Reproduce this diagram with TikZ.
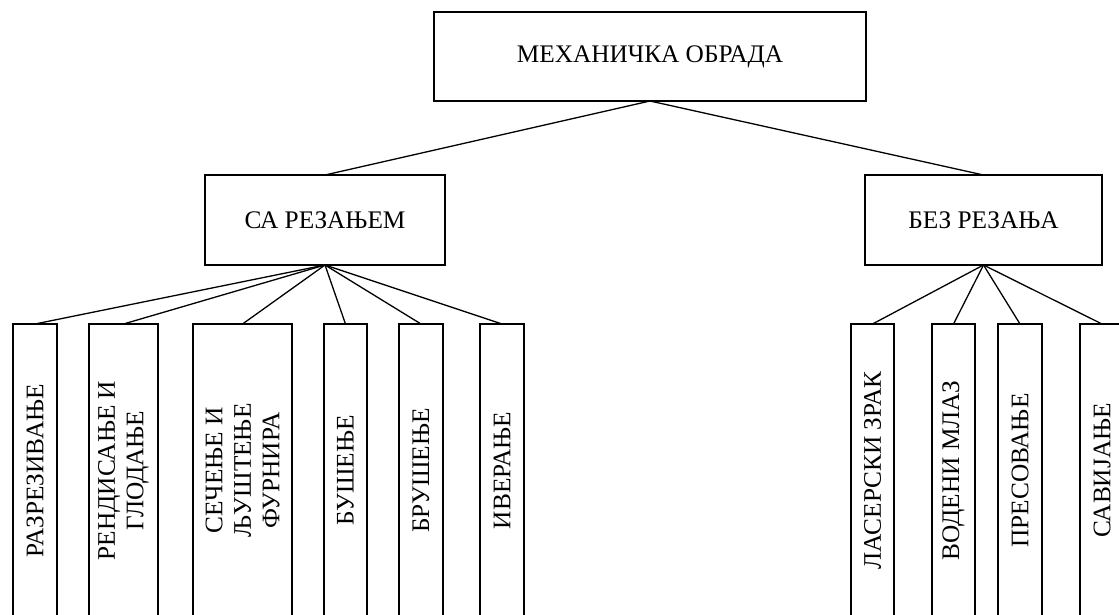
\documentclass[tikz,border=0pt]{standalone}
\usepackage{fontspec}
\setmainfont{Liberation Serif}
\usepackage{tikz}
\usetikzlibrary{positioning}

\begin{document}
\begin{tikzpicture}[x=1pt, y=-1pt,
    mainbox/.style={draw, line width=2.3pt, inner sep=0pt, outer sep=0pt,
      font=\fontsize{25.3}{28.5}\selectfont},
    leafbox/.style={mainbox, rotate=90, minimum width=293pt, align=center},
    link/.style={line width=1.3pt}]
      \useasboundingbox (0, 0) rectangle (1119, 614);

      % top level
      \node[mainbox, minimum width=432pt, minimum height=89pt] (meh) at (650, 56.5) {МЕХАНИЧКА ОБРАДА};

      \node[mainbox, minimum width=240pt, minimum height=90pt] (sa) at (325, 220) {СА РЕЗАЊЕМ};
      \node[mainbox, minimum width=237pt, minimum height=90pt] (bez) at (983.5, 220) {БЕЗ РЕЗАЊА};

      \draw[link] (meh.south) -- (sa.north);
      \draw[link] (meh.south) -- (bez.north);

      % with cutting
      \node[leafbox, minimum height=44pt] (raz) at (35, 470.5) {РАЗРЕЗИВАЊЕ};
      \node[leafbox, minimum height=69pt] (ren) at (123.5, 470.5) {РЕНДИСАЊЕ И\\ГЛОДАЊЕ};
      \node[leafbox, minimum height=99pt] (sec) at (242.5, 470.5) {СЕЧЕЊЕ И\\ЉУШТЕЊЕ\\ФУРНИРА};
      \node[leafbox, minimum height=43pt] (bus) at (345.5, 470.5) {БУШЕЊЕ};
      \node[leafbox, minimum height=44pt] (bru) at (421, 470.5) {БРУШЕЊЕ};
      \node[leafbox, minimum height=44pt] (ive) at (502, 470.5) {ИВЕРАЊЕ};

      \draw[link] (sa.south) -- (raz.east);
      \draw[link] (sa.south) -- (ren.east);
      \draw[link] (sa.south) -- (sec.east);
      \draw[link] (sa.south) -- (bus.east);
      \draw[link] (sa.south) -- (bru.east);
      \draw[link] (sa.south) -- (ive.east);

      % without cutting
      \node[leafbox, minimum height=43pt] (las) at (872.5, 470.5) {ЛАСЕРСКИ ЗРАК};
      \node[leafbox, minimum height=43pt] (vod) at (953.5, 470.5) {ВОДЕНИ МЛАЗ};
      \node[leafbox, minimum height=44pt] (pre) at (1020, 470.5) {ПРЕСОВАЊЕ};
      \node[leafbox, minimum height=44pt] (sav) at (1102, 470.5) {САВИЈАЊЕ};

      \draw[link] (bez.south) -- (las.east);
      \draw[link] (bez.south) -- (vod.east);
      \draw[link] (bez.south) -- (pre.east);
      \draw[link] (bez.south) -- (sav.east);

    \end{tikzpicture}
\end{document}
